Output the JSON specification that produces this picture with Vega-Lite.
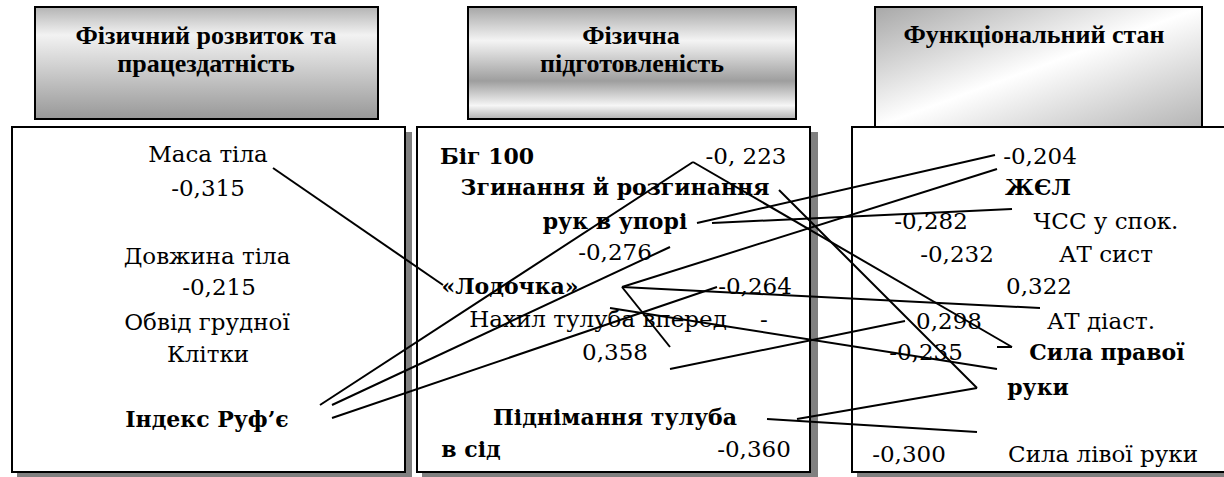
{
  "$schema": "https://vega.github.io/schema/vega-lite/v6.json",
  "width": 1224,
  "height": 477,
  "padding": 0,
  "autosize": {"type": "none"},
  "background": "white",
  "config": {"view": {"stroke": null}},
  "datasets": {
    "shadows": [
      {"x": 17, "x2": 412, "y": 132, "y2": 477},
      {"x": 422, "x2": 818, "y": 132, "y2": 477},
      {"x": 857, "x2": 1240, "y": 132, "y2": 477}
    ],
    "boxes": [
      {"x": 12, "x2": 405, "y": 127, "y2": 472},
      {"x": 417, "x2": 810, "y": 127, "y2": 472},
      {"x": 852, "x2": 1235, "y": 127, "y2": 472}
    ],
    "h1": [{"x": 35, "x2": 378, "y": 7, "y2": 119}],
    "h2": [{"x": 468, "x2": 796, "y": 7, "y2": 119}],
    "h3": [{"x": 875, "x2": 1202, "y": 7, "y2": 127}],
    "headtext": [
      {"x": 206, "y": 44, "t": "Фізичний розвиток та"},
      {"x": 206, "y": 72, "t": "працездатність"},
      {"x": 631, "y": 44, "t": "Фізична"},
      {"x": 632, "y": 72, "t": "підготовленість"},
      {"x": 1034, "y": 43, "t": "Функціональний стан"}
    ],
    "regular": [
      {"x": 208, "y": 155, "t": "Маса тіла"},
      {"x": 208, "y": 189, "t": "-0,315"},
      {"x": 207, "y": 257, "t": "Довжина тіла"},
      {"x": 219, "y": 288, "t": "-0,215"},
      {"x": 207, "y": 323, "t": "Обвід грудної"},
      {"x": 208, "y": 355, "t": "Клітки"},
      {"x": 746, "y": 157, "t": "-0, 223"},
      {"x": 615, "y": 253, "t": "-0,276"},
      {"x": 755, "y": 287, "t": "-0,264"},
      {"x": 598, "y": 320, "t": "Нахил тулуба вперед"},
      {"x": 764, "y": 320, "t": "-"},
      {"x": 615, "y": 353, "t": "0,358"},
      {"x": 754, "y": 450, "t": "-0,360"},
      {"x": 1040, "y": 157, "t": "-0,204"},
      {"x": 931, "y": 222, "t": "-0,282"},
      {"x": 1106, "y": 222, "t": "ЧСС у спок."},
      {"x": 957, "y": 255, "t": "-0,232"},
      {"x": 1106, "y": 255, "t": "АТ сист"},
      {"x": 1039, "y": 287, "t": "0,322"},
      {"x": 949, "y": 322, "t": "0,298"},
      {"x": 1101, "y": 322, "t": "АТ діаст."},
      {"x": 926, "y": 353, "t": "-0,235"},
      {"x": 909, "y": 455, "t": "-0,300"},
      {"x": 1103, "y": 455, "t": "Сила лівої руки"}
    ],
    "bold": [
      {"x": 207, "y": 420, "t": "Індекс Руф’є"},
      {"x": 487, "y": 157, "t": "Біг 100"},
      {"x": 615, "y": 188, "t": "Згинання й розгинання"},
      {"x": 615, "y": 222, "t": "рук в упорі"},
      {"x": 510, "y": 287, "t": "«Лодочка»"},
      {"x": 615, "y": 418, "t": "Піднімання тулуба"},
      {"x": 471, "y": 450, "t": "в сід"},
      {"x": 1038, "y": 188, "t": "ЖЄЛ"},
      {"x": 1107, "y": 353, "t": "Сила правої"},
      {"x": 1038, "y": 388, "t": "руки"}
    ],
    "links": [
      {"x": 273, "y": 168, "x2": 443, "y2": 285},
      {"x": 320, "y": 405, "x2": 693, "y2": 162},
      {"x": 693, "y": 162, "x2": 1012, "y2": 347},
      {"x": 1012, "y": 347, "x2": 997, "y2": 347},
      {"x": 332, "y": 405, "x2": 670, "y2": 247},
      {"x": 332, "y": 418, "x2": 717, "y2": 287},
      {"x": 779, "y": 190, "x2": 977, "y2": 388},
      {"x": 697, "y": 223, "x2": 995, "y2": 155},
      {"x": 712, "y": 223, "x2": 1012, "y2": 209},
      {"x": 997, "y": 169, "x2": 622, "y2": 287},
      {"x": 622, "y": 287, "x2": 1040, "y2": 308},
      {"x": 622, "y": 287, "x2": 670, "y2": 347},
      {"x": 610, "y": 308, "x2": 997, "y2": 369},
      {"x": 670, "y": 369, "x2": 905, "y2": 321},
      {"x": 767, "y": 419, "x2": 977, "y2": 432},
      {"x": 797, "y": 419, "x2": 977, "y2": 388}
    ]
  },
  "layer": [
    {
      "data": {"name": "shadows"},
      "mark": {"type": "rect", "fill": "#808080", "clip": true},
      "encoding": {
        "x": {"field": "x", "type": "quantitative", "scale": {"domain": [0, 1224]}, "axis": null},
        "x2": {"field": "x2"},
        "y": {"field": "y", "type": "quantitative", "scale": {"domain": [0, 477], "reverse": true}, "axis": null},
        "y2": {"field": "y2"}
      }
    },
    {
      "data": {"name": "h1"},
      "mark": {"type": "rect", "stroke": "black", "strokeWidth": 2,
        "fill": {"gradient": "linear", "x1": 0, "y1": 0, "x2": 0, "y2": 1,
          "stops": [{"offset": 0, "color": "#b4b4b4"}, {"offset": 0.25, "color": "#f2f2f2"}, {"offset": 1, "color": "#989898"}]}},
      "encoding": {
        "x": {"field": "x", "type": "quantitative", "scale": {"domain": [0, 1224]}, "axis": null},
        "x2": {"field": "x2"},
        "y": {"field": "y", "type": "quantitative", "scale": {"domain": [0, 477], "reverse": true}, "axis": null},
        "y2": {"field": "y2"}
      }
    },
    {
      "data": {"name": "h2"},
      "mark": {"type": "rect", "stroke": "black", "strokeWidth": 2,
        "fill": {"gradient": "linear", "x1": 0, "y1": 0, "x2": 0, "y2": 1,
          "stops": [{"offset": 0, "color": "#a6a6a6"}, {"offset": 0.3, "color": "#f4f4f4"}, {"offset": 0.66, "color": "#9e9e9e"}, {"offset": 0.88, "color": "#f6f6f6"}, {"offset": 1, "color": "#b2b2b2"}]}},
      "encoding": {
        "x": {"field": "x", "type": "quantitative", "scale": {"domain": [0, 1224]}, "axis": null},
        "x2": {"field": "x2"},
        "y": {"field": "y", "type": "quantitative", "scale": {"domain": [0, 477], "reverse": true}, "axis": null},
        "y2": {"field": "y2"}
      }
    },
    {
      "data": {"name": "h3"},
      "mark": {"type": "rect", "stroke": "black", "strokeWidth": 2,
        "fill": {"gradient": "linear", "x1": 0, "y1": 0, "x2": 1, "y2": 1,
          "stops": [{"offset": 0, "color": "#a8a8a8"}, {"offset": 0.5, "color": "#ffffff"}, {"offset": 1, "color": "#b4b4b4"}]}},
      "encoding": {
        "x": {"field": "x", "type": "quantitative", "scale": {"domain": [0, 1224]}, "axis": null},
        "x2": {"field": "x2"},
        "y": {"field": "y", "type": "quantitative", "scale": {"domain": [0, 477], "reverse": true}, "axis": null},
        "y2": {"field": "y2"}
      }
    },
    {
      "data": {"name": "boxes"},
      "mark": {"type": "rect", "fill": "white", "stroke": "black", "strokeWidth": 2, "clip": true},
      "encoding": {
        "x": {"field": "x", "type": "quantitative", "scale": {"domain": [0, 1224]}, "axis": null},
        "x2": {"field": "x2"},
        "y": {"field": "y", "type": "quantitative", "scale": {"domain": [0, 477], "reverse": true}, "axis": null},
        "y2": {"field": "y2"}
      }
    },
    {
      "data": {"name": "headtext"},
      "mark": {"type": "text", "font": "Liberation Serif", "fontWeight": "bold", "fontSize": 26, "align": "center", "baseline": "alphabetic", "color": "black"},
      "encoding": {
        "x": {"field": "x", "type": "quantitative", "scale": {"domain": [0, 1224]}, "axis": null},
        "y": {"field": "y", "type": "quantitative", "scale": {"domain": [0, 477], "reverse": true}, "axis": null},
        "text": {"field": "t"}
      }
    },
    {
      "data": {"name": "regular"},
      "mark": {"type": "text", "font": "DejaVu Serif", "fontSize": 23, "align": "center", "baseline": "middle", "color": "black"},
      "encoding": {
        "x": {"field": "x", "type": "quantitative", "scale": {"domain": [0, 1224]}, "axis": null},
        "y": {"field": "y", "type": "quantitative", "scale": {"domain": [0, 477], "reverse": true}, "axis": null},
        "text": {"field": "t"}
      }
    },
    {
      "data": {"name": "bold"},
      "mark": {"type": "text", "font": "DejaVu Serif", "fontWeight": "bold", "fontSize": 22, "align": "center", "baseline": "middle", "color": "black"},
      "encoding": {
        "x": {"field": "x", "type": "quantitative", "scale": {"domain": [0, 1224]}, "axis": null},
        "y": {"field": "y", "type": "quantitative", "scale": {"domain": [0, 477], "reverse": true}, "axis": null},
        "text": {"field": "t"}
      }
    },
    {
      "data": {"name": "links"},
      "mark": {"type": "rule", "color": "black", "strokeWidth": 2},
      "encoding": {
        "x": {"field": "x", "type": "quantitative", "scale": {"domain": [0, 1224]}, "axis": null},
        "x2": {"field": "x2"},
        "y": {"field": "y", "type": "quantitative", "scale": {"domain": [0, 477], "reverse": true}, "axis": null},
        "y2": {"field": "y2"}
      }
    }
  ]
}
